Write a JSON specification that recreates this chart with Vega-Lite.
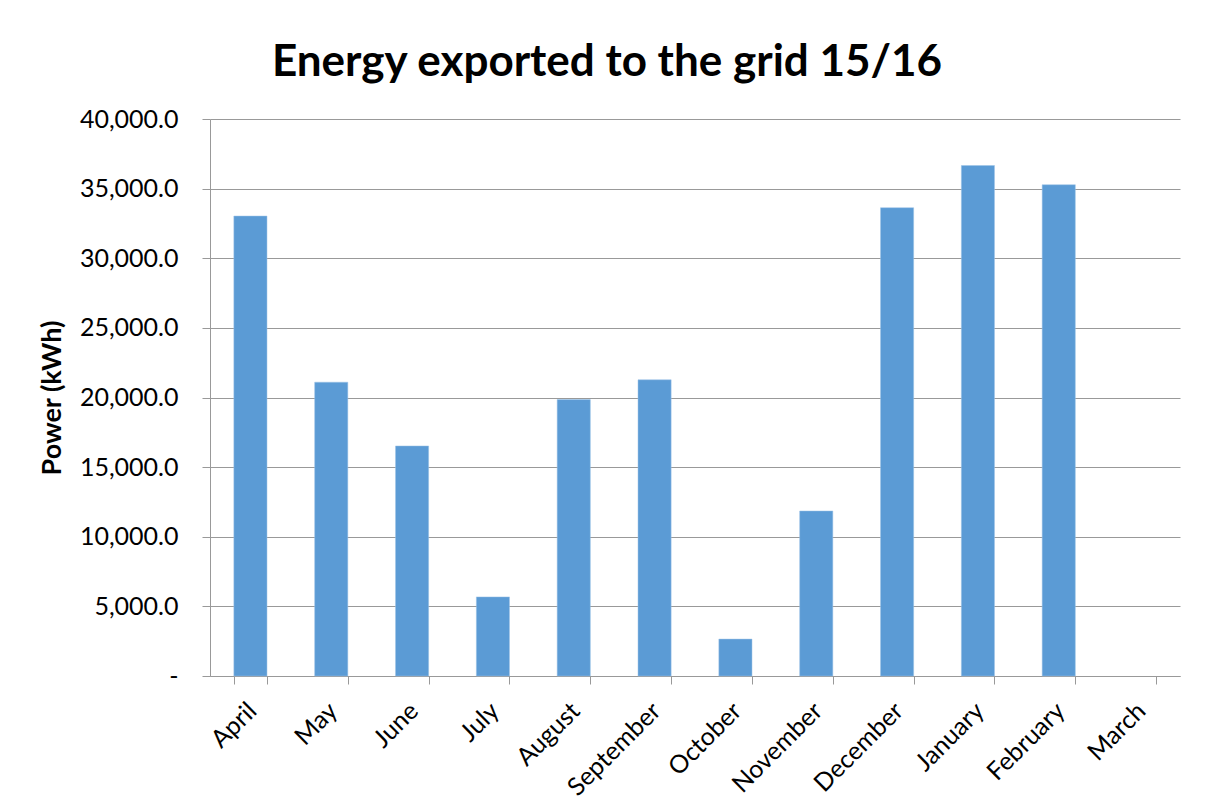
{
  "$schema": "https://vega.github.io/schema/vega-lite/v6.json",
  "autosize": {"type": "none"},
  "width": 970,
  "height": 557,
  "padding": {"left": 210, "top": 119, "right": 28, "bottom": 136},
  "background": "white",
  "title": {
    "text": "Energy exported to the grid 15/16",
    "font": "Lato",
    "fontSize": 44,
    "fontWeight": "bold",
    "color": "#000000",
    "anchor": "middle",
    "dx": -88,
    "offset": 22
  },
  "data": {
    "values": [
      {"month": "April", "power": 33030},
      {"month": "May", "power": 21100},
      {"month": "June", "power": 16520},
      {"month": "July", "power": 5680},
      {"month": "August", "power": 19850},
      {"month": "September", "power": 21270},
      {"month": "October", "power": 2650},
      {"month": "November", "power": 11850},
      {"month": "December", "power": 33630},
      {"month": "January", "power": 36660},
      {"month": "February", "power": 35280},
      {"month": "March", "power": null}
    ]
  },
  "mark": {"type": "bar", "color": "#5B9BD5", "stroke": "#9DC3E6", "strokeWidth": 0.5},
  "encoding": {
    "x": {
      "field": "month",
      "type": "nominal",
      "sort": null,
      "scale": {
        "domain": ["April", "May", "June", "July", "August", "September", "October", "November", "December", "January", "February", "March"],
        "paddingInner": 0.59,
        "paddingOuter": 0.295
      },
      "axis": {
        "title": null,
        "labelAngle": -45,
        "labelFont": "Lato",
        "labelFontSize": 25,
        "labelColor": "#000000",
        "labelPadding": 14,
        "labelOffset": -7,
        "tickBand": "extent",
        "tickSize": 8,
        "tickColor": "#999999",
        "domainColor": "#999999",
        "grid": false
      }
    },
    "y": {
      "field": "power",
      "type": "quantitative",
      "scale": {"domain": [0, 40000], "nice": false},
      "axis": {
        "title": "Power (kWh)",
        "titleFont": "Lato",
        "titleFontSize": 27,
        "titleFontWeight": "bold",
        "titleColor": "#000000",
        "titlePadding": 13,
        "values": [0, 5000, 10000, 15000, 20000, 25000, 30000, 35000, 40000],
        "labelExpr": "datum.value == 0 ? '-' : format(datum.value, ',.1f')",
        "labelFont": "Lato",
        "labelFontSize": 25,
        "labelColor": "#000000",
        "labelPadding": 24,
        "tickSize": 8,
        "tickColor": "#999999",
        "domainColor": "#999999",
        "gridColor": "#999999",
        "gridWidth": 1
      }
    }
  },
  "config": {"view": {"stroke": null}}
}
